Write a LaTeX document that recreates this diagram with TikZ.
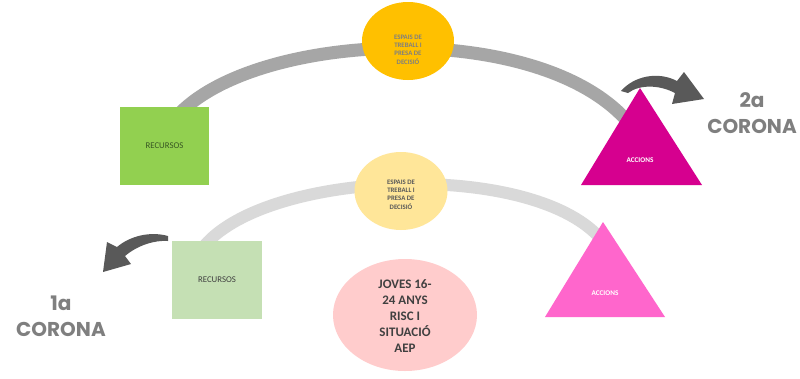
\documentclass[tikz,border=0pt]{standalone}
\usepackage{fontspec}
\setmainfont{Carlito}
\newfontfamily\coronafont{Poppins}
\usetikzlibrary{shapes.geometric}
\definecolor{arcdark}{HTML}{A6A6A6}
\definecolor{arclight}{HTML}{D9D9D9}
\definecolor{orangec}{HTML}{FFC000}
\definecolor{yellowc}{HTML}{FFE699}
\definecolor{pinkc}{HTML}{FFCCCC}
\definecolor{greenA}{HTML}{92D050}
\definecolor{greenB}{HTML}{C5E0B4}
\definecolor{magA}{HTML}{D6008F}
\definecolor{magB}{HTML}{FF66CC}
\definecolor{arrowc}{HTML}{595959}
\definecolor{coronac}{HTML}{7F7F7F}
\begin{document}
\begin{tikzpicture}[x=1pt,y=-1pt,
  arcband/.style={line width=13pt,line cap=butt},
  box/.style={inner sep=0pt,minimum width=89pt,minimum height=78pt},
  blob/.style={ellipse,inner sep=0pt},
  smalltxt/.style={font=\fontsize{6.8}{8.2}\selectfont\bfseries,align=center},
  acctxt/.style={font=\fontsize{7.2}{8}\selectfont\bfseries,text=white},
  rectxt/.style={font=\fontsize{8.8}{10}\selectfont},
  corona/.style={font=\coronafont\bfseries\fontsize{20}{26}\selectfont,text=coronac,align=center},
  darrow/.style={fill=arrowc}]
\useasboundingbox (0,0) rectangle (800,378);
\fill[white] (0,0) rectangle (800,378);

% coordinates
\coordinate (u1s) at (180,113);
\coordinate (u1e) at (628,122);
\coordinate (l1s) at (205,245);
\coordinate (l1e) at (600,238);

% arcs
\draw[arcband,draw=arcdark] (u1s) .. controls (262,30) and (540,20) .. (u1e);
\draw[arcband,draw=arclight,line width=12pt] (l1s) .. controls (270,170) and (530,160) .. (l1e);

% upper level
\node[box,fill=greenA] (rec1) at (164.5,146) {};
\node[rectxt,text={rgb,255:red,56;green,87;blue,35}] (rec1t) at (rec1.center) {RECURSOS};
\node[blob,fill=orangec,minimum width=92pt,minimum height=78pt] (esp1) at (408,41) {};
\node[smalltxt,text=coronac] (esp1t) at (408,49.5) {ESPAIS DE\\TREBALL I\\PRESA DE\\DECISIÓ};
\coordinate (t1a) at (640,88);
\coordinate (t1b) at (702,185);
\coordinate (t1c) at (581,185);
\fill[magA] (t1a) -- (t1b) -- (t1c) -- cycle;
\node[acctxt] (acc1) at (640,160) {ACCIONS};

% lower level
\node[box,fill=greenB,minimum width=90pt] (rec2) at (217,279.5) {};
\node[rectxt,text={rgb,255:red,64;green,64;blue,64}] (rec2t) at (rec2.center) {RECURSOS};
\node[blob,fill=yellowc,minimum width=93pt,minimum height=78pt] (esp2) at (401,191) {};
\node[smalltxt,text={rgb,255:red,89;green,89;blue,89}] (esp2t) at (401,194.5) {ESPAIS DE\\TREBALL I\\PRESA DE\\DECISIÓ};
\coordinate (t2a) at (603,222);
\coordinate (t2b) at (665,317);
\coordinate (t2c) at (545,317);
\fill[magB] (t2a) -- (t2b) -- (t2c) -- cycle;
\node[acctxt] (acc2) at (605,293) {ACCIONS};

\node[blob,fill=pinkc,minimum width=144pt,minimum height=112pt] (joves) at (405,315) {};
\node[font=\fontsize{13}{15.8}\selectfont\bfseries,text={rgb,255:red,64;green,64;blue,64},align=center] (jovest) at (405,316) {JOVES 16-\\24 ANYS\\RISC I\\SITUACIÓ\\AEP};

% dark arrows
\fill[darrow] (621,91) .. controls (634,76) and (658,71) .. (677,81) -- (684,72) -- (704,99) -- (672,104) -- (675,93) .. controls (660,85) and (640,84) .. (628,93) -- cycle;
\fill[darrow] (168,236) .. controls (150,231) and (130,236) .. (117,247) -- (107,242) -- (103,272) -- (131,264) -- (125,256) .. controls (138,245) and (155,240) .. (168,241) -- cycle;

% corona labels
\node[corona] (c2) at (752,113) {2a\\CORONA};
\node[corona] (c1) at (61,316) {1a\\CORONA};
\end{tikzpicture}
\end{document}
